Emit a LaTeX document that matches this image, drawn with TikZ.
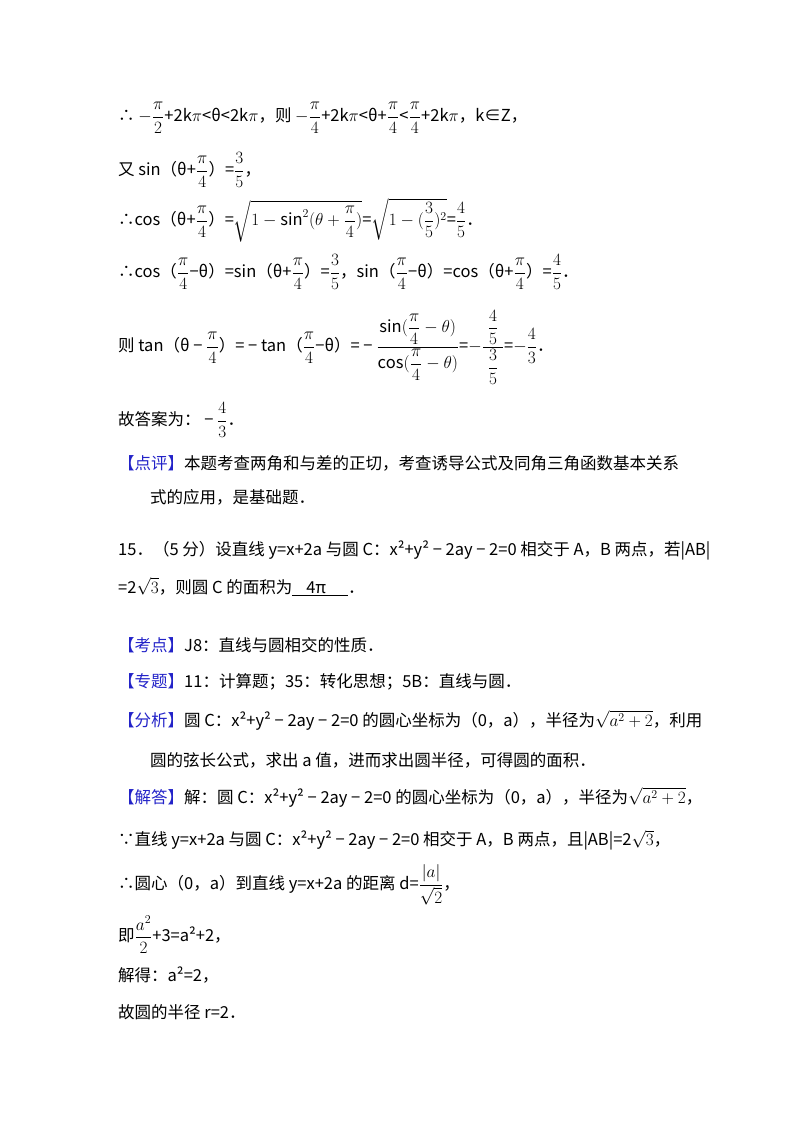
\documentclass[tikz,border=0pt]{standalone}
\usepackage{fontspec}
\setmainfont{Noto Sans CJK SC}
\usepackage{amsmath}
\definecolor{kb}{HTML}{2323C8}
\newcommand{\kh}[1]{\textcolor{kb}{【#1】}}
\newcommand{\fr}[2]{{\textstyle\frac{#1}{#2}}}
\newcommand{\df}[2]{\dfrac{#1}{#2}}
\begin{document}
\begin{tikzpicture}[x=1pt,y=-1pt,
  ln/.style={anchor=west,inner sep=0pt,font=\fontsize{16.5}{20}\selectfont}]
\useasboundingbox (0,0) rectangle (800,1132);
\node[ln] (l1) at (118,118) {∴ $-\df{\pi}{2}$+2k$\pi$<θ<2k$\pi$，则 $-\df{\pi}{4}$+2k$\pi$<θ+$\df{\pi}{4}$<$\df{\pi}{4}$+2k$\pi$，k∈Z，};
\node[ln] (l2) at (118,170) {又 sin（θ+$\df{\pi}{4}$）=$\df{3}{5}$，};
\node[ln] (l3) at (118,220) {∴cos（θ+$\df{\pi}{4}$）=$\sqrt{1-\sin^2(\theta+\df{\pi}{4})}$=$\sqrt{1-(\df{3}{5})^2}$=$\df{4}{5}$．};
\node[ln] (l4) at (118,272) {∴cos（$\df{\pi}{4}$−θ）=sin（θ+$\df{\pi}{4}$）=$\df{3}{5}$，sin（$\df{\pi}{4}$−θ）=cos（θ+$\df{\pi}{4}$）=$\df{4}{5}$．};
\node[ln] (l5) at (118,347) {则 tan（θ − $\df{\pi}{4}$）= − tan（$\df{\pi}{4}$−θ）= − $\dfrac{\sin(\df{\pi}{4}-\theta)}{\cos(\df{\pi}{4}-\theta)}$=$-\dfrac{\;\df{4}{5}\;}{\df{3}{5}}$=$-\df{4}{3}$．};
\node[ln] (l6) at (118,420) {故答案为： − $\df{4}{3}$．};
\node[ln] (l7) at (118,463) {\kh{点评}本题考查两角和与差的正切，考查诱导公式及同角三角函数基本关系};
\node[ln] (l8) at (150,497) {式的应用，是基础题．};
\node[ln] (l9) at (118,550) {15．（5 分）设直线 y=x+2a 与圆 C：x²+y² − 2ay − 2=0 相交于 A，B 两点，若|AB|};
\node[ln] (l10) at (118,587) {=2$\sqrt{3}$，则圆 C 的面积为\underline{\hspace{14pt}4π\hspace{22pt}}．};
\node[ln] (l11) at (118,645) {\kh{考点}J8：直线与圆相交的性质．};
\node[ln] (l12) at (118,682) {\kh{专题}11：计算题；35：转化思想；5B：直线与圆．};
\node[ln] (l13) at (118,720) {\kh{分析}圆 C：x²+y² − 2ay − 2=0 的圆心坐标为（0，a），半径为$\sqrt{a^2+2}$，利用};
\node[ln] (l14) at (150,760) {圆的弦长公式，求出 a 值，进而求出圆半径，可得圆的面积．};
\node[ln] (l15) at (118,797) {\kh{解答}解：圆 C：x²+y² − 2ay − 2=0 的圆心坐标为（0，a），半径为$\sqrt{a^2+2}$，};
\node[ln] (l16) at (118,840) {∵直线 y=x+2a 与圆 C：x²+y² − 2ay − 2=0 相交于 A，B 两点，且|AB|=2$\sqrt{3}$，};
\node[ln] (l17) at (118,885) {∴圆心（0，a）到直线 y=x+2a 的距离 d=$\df{|a|}{\sqrt{2}}$，};
\node[ln] (l18) at (118,935) {即$\df{a^2}{2}$+3=a²+2，};
\node[ln] (l19) at (118,975) {解得：a²=2，};
\node[ln] (l20) at (118,1012) {故圆的半径 r=2．};
\end{tikzpicture}
\end{document}
